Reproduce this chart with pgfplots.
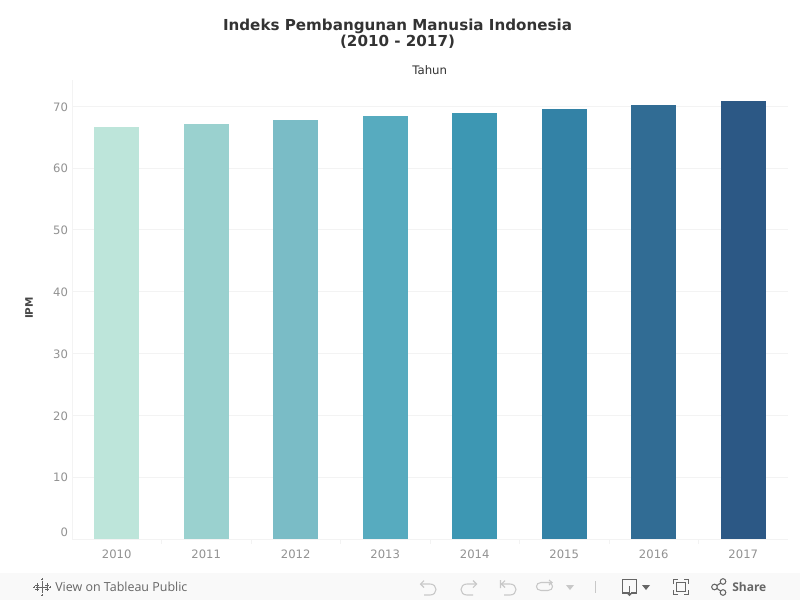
\documentclass[border=0pt]{standalone}
\usepackage{pgfplots}
\pgfplotsset{compat=1.18}
\usepackage{fontspec}
\setmainfont{DejaVu Sans}
\newfontfamily\uifont{Open Sans}
\definecolor{gridc}{HTML}{F3F3F3}
\definecolor{tickc}{HTML}{929292}
\definecolor{titlec}{HTML}{333333}
\definecolor{barA}{HTML}{BDE5DA}
\definecolor{barB}{HTML}{9AD1CF}
\definecolor{barC}{HTML}{7ABCC6}
\definecolor{barD}{HTML}{57ABBF}
\definecolor{barE}{HTML}{3D97B3}
\definecolor{barF}{HTML}{3382A6}
\definecolor{barG}{HTML}{316C94}
\definecolor{barH}{HTML}{2C5885}
\definecolor{iconA}{HTML}{C8C8C8}
\definecolor{iconB}{HTML}{666666}
\begin{document}
\begin{tikzpicture}[x=0.75pt,y=-0.75pt]
\path[use as bounding box] (0,0) rectangle (800,600);
\fill[white] (0,0) rectangle (800,600);
\fill[black!2.5] (0,573) rectangle (800,600);
\coordinate (A) at (72,539);
\begin{axis}[
  at={(A)}, anchor=south west,
  scale only axis, width=537pt, height=344.25pt,
  xmin=-0.5, xmax=7.5, ymin=0, ymax=74.27,
  axis x line*=bottom, axis y line*=left,
  axis line style={gridc, line width=0.75pt, -},
  ybar, bar shift=0pt, bar width=33.75pt,
  xtick={0,...,7},
  xticklabels={2010,2011,2012,2013,2014,2015,2016,2017},
  minor xtick={0.5,1.5,2.5,3.5,4.5,5.5,6.5},
  extra x ticks={-0.5},
  extra x tick labels={},
  extra x tick style={tick style={gridc,line width=0.75pt}, major tick length=3.5pt},
  major x tick style={draw=none},
  minor x tick style={gridc,line width=0.75pt},
  minor tick length=3.5pt,
  ytick={10,20,30,40,50,60,70},
  extra y ticks={0},
  extra y tick style={grid=none, tick label style={yshift=5.6pt}, major tick length=3.75pt},
  ymajorgrids, grid style={gridc,line width=0.75pt},
  major y tick style={gridc,line width=0.75pt},
  major tick length=3.75pt,
  tick label style={font=\fontsize{8.7pt}{10pt}\selectfont, text=tickc},
  x tick label style={yshift=-1pt},
  y tick label style={xshift=0.5pt,yshift=-0.4pt},
  /pgf/number format/assume math mode=true,
  clip=false,
]
\addplot[fill=barA,draw=none] coordinates {(0,66.65)};
\addplot[fill=barB,draw=none] coordinates {(1,67.15)};
\addplot[fill=barC,draw=none] coordinates {(2,67.8)};
\addplot[fill=barD,draw=none] coordinates {(3,68.45)};
\addplot[fill=barE,draw=none] coordinates {(4,69.0)};
\addplot[fill=barF,draw=none] coordinates {(5,69.6)};
\addplot[fill=barG,draw=none] coordinates {(6,70.25)};
\addplot[fill=barH,draw=none] coordinates {(7,70.85)};
\end{axis}
% titles
\node[font=\bfseries\fontsize{11.35pt}{11.4pt}\selectfont, text=titlec, align=center, anchor=center] at (397.5,33.7) {Indeks Pembangunan Manusia Indonesia\\(2010 - 2017)};
\node[font=\fontsize{8.8pt}{10pt}\selectfont, text=titlec] at (429.7,70) {Tahun};
\node[font=\bfseries\fontsize{7.8pt}{10pt}\selectfont, text=titlec!90, rotate=90] at (29,308) {IPM};
% toolbar
\node[font=\uifont\fontsize{9.35pt}{11pt}\selectfont, text=iconB, anchor=west, inner sep=0pt] at (55,587) {View on Tableau Public};
\node[font=\uifont\bfseries\fontsize{9pt}{11pt}\selectfont, text=iconB, anchor=west, inner sep=0pt] at (732,587) {Share};
% tableau logo
\begin{scope}[iconB,line width=0.6pt]
\draw (42,581) -- (42,593) (36,587) -- (48,587);
\draw (37,583) -- (37,587) (35,585) -- (39,585) (47,583) -- (47,587) (45,585) -- (49,585);
\draw (37,587) -- (37,591) (35,589) -- (39,589) (47,587) -- (47,591) (45,589) -- (49,589);
\draw (42,578) -- (42,580) (41,579) -- (43,579) (42,594) -- (42,596) (41,595) -- (43,595);
\draw (33,587) -- (35,587) (34,586) -- (34,588) (49,587) -- (51,587) (50,586) -- (50,588);
\end{scope}
% history icons
\begin{scope}[iconA,line width=0.8pt]
\draw (421,584) -- (430,584) .. controls (438,584) and (438,595) .. (430,595) -- (424,595);
\draw (424,580.5) -- (420.5,584) -- (424,587.5);
\draw (476,584) -- (467,584) .. controls (459,584) and (459,595) .. (467,595) -- (473,595);
\draw (473,580.5) -- (476.5,584) -- (473,587.5);
\draw (501,584) -- (510,584) .. controls (518,584) and (518,595) .. (510,595) -- (504,595);
\draw (500.5,580) -- (500.5,588) (505,580.5) -- (501.5,584) -- (505,587.5);
\draw (552,582.5) -- (541,582.5) .. controls (535,582.5) and (535,590.5) .. (541,590.5) -- (548,590.5) .. controls (554,590.5) and (554,582.5) .. (548,582.5);
\draw (549,580) -- (552,582.5) -- (549,585);
\fill (566,585) -- (574,585) -- (570,590) -- cycle;
\draw[line width=0.9pt] (595.5,581) -- (595.5,593);
\end{scope}
% download, fullscreen, share
\begin{scope}[iconB,line width=0.8pt]
\draw (629,593) -- (622.5,593) -- (622.5,579.5) -- (636.5,579.5) -- (636.5,593) -- (631,593);
\draw (629.5,586) -- (629.5,595);
\fill (626.5,593) -- (632.5,593) -- (629.5,596) -- cycle;
\fill[iconB] (642,585) -- (650,585) -- (646,590) -- cycle;
\draw (673.5,584) -- (673.5,579.5) -- (678,579.5) (684,579.5) -- (688.5,579.5) -- (688.5,584) (688.5,590) -- (688.5,594.5) -- (684,594.5) (678,594.5) -- (673.5,594.5) -- (673.5,590);
\draw (676.5,582.5) rectangle (685.5,591.5);
\draw (714.5,587) circle[radius=2.8] (723,581.5) circle[radius=2.8] (723,592.5) circle[radius=2.8];
\draw (717,585.5) -- (720.6,583) (717,588.5) -- (720.6,591);
\end{scope}
\end{tikzpicture}
\end{document}
